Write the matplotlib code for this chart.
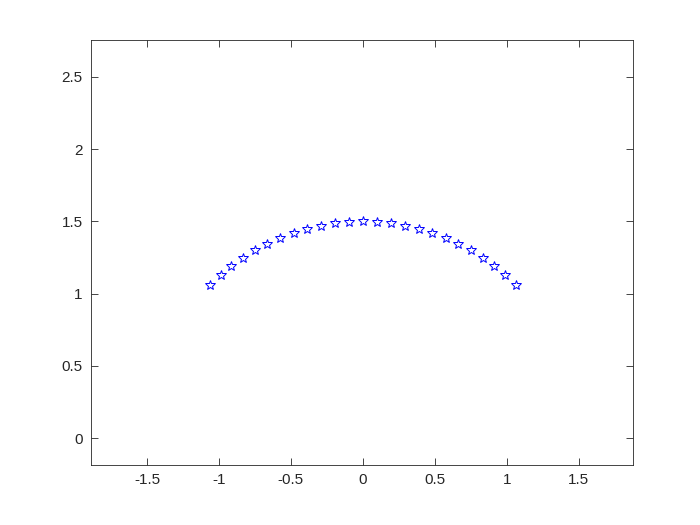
import matplotlib
matplotlib.use("Agg")
import matplotlib.pyplot as plt

plt.rcParams['font.family'] = ['Liberation Sans', 'DejaVu Sans']
plt.rcParams['axes.unicode_minus'] = False

# Points on the arc
x_vals = [-1.061, -0.989, -0.913, -0.833, -0.750, -0.663, -0.574, -0.482, -0.388,
          -0.293, -0.196, -0.098, 0.0, 0.098, 0.196, 0.293, 0.388, 0.482, 0.574,
          0.663, 0.750, 0.833, 0.913, 0.989, 1.061]
y_vals = [1.061, 1.128, 1.190, 1.247, 1.299, 1.345, 1.386, 1.420, 1.449,
          1.471, 1.487, 1.497, 1.500, 1.497, 1.487, 1.471, 1.449, 1.420, 1.386,
          1.345, 1.299, 1.247, 1.190, 1.128, 1.061]

x_ticks = [-1.5, -1, -0.5, 0, 0.5, 1, 1.5]
y_ticks = [0, 0.5, 1, 1.5, 2, 2.5]
x_labels = ['-1.5', '-1', '-0.5', '0', '0.5', '1', '1.5']
y_labels = ['0', '0.5', '1', '1.5', '2', '2.5']

fig = plt.figure(figsize=(7, 5.25), dpi=100)
ax = fig.add_axes([0.13, 0.114, 0.774, 0.81])

ax.plot(x_vals, y_vals, linestyle='none', marker='*', markersize=7.5,
        markerfacecolor='none', markeredgecolor='#0000ff', markeredgewidth=0.7)

ax.set_xlim(-1.889, 1.875)
ax.set_ylim(-0.187, 2.756)
ax.set_xticks(x_ticks)
ax.set_xticklabels(x_labels)
ax.set_yticks(y_ticks)
ax.set_yticklabels(y_labels)

edge = '#262626'
for s in ax.spines.values():
    s.set_color(edge)
    s.set_linewidth(0.6)
ax.tick_params(direction='in', top=True, right=True, length=5, width=0.6,
               colors=edge, labelsize=11, pad=6)

fig.savefig('out.png', dpi=100)
